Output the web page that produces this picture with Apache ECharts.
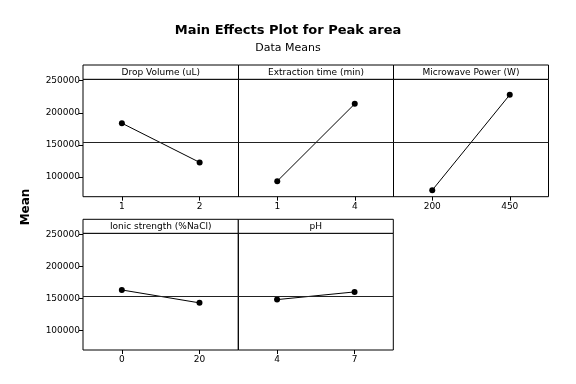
<!DOCTYPE html>
<html><head><meta charset="utf-8">
<script src="https://cdn.jsdelivr.net/npm/echarts@6/dist/echarts.min.js"></script>
<style>html,body{margin:0;padding:0;background:#fff}#c{width:576px;height:384px}</style>
</head><body><div id="c"></div>
<script>
const factors = ['Drop Volume (uL)', 'Extraction time (min)', 'Microwave Power (W)', 'Ionic strength (%NaCl)', 'pH'];
const levels = [['1', '2'], ['1', '4'], ['200', '450'], ['0', '20'], ['4', '7']];
const means = [[183900, 122900], [93700, 214000], [79700, 228100], [163500, 143300], [148400, 160400]];
const grandMean = 153600;
const yTicks = [100000, 150000, 200000, 250000];
const yMin = 69500, yMax = 252200;

const FONT = 'DejaVu Sans';
// panel layout: [left, headerTop, width, plotTop, plotBottom]
const panels = [
  [83, 65, 155.5, 79.3, 196.7],
  [238.5, 65, 155, 79.3, 196.7],
  [393.5, 65, 155, 79.3, 196.7],
  [83, 219.3, 155.3, 233.3, 350],
  [238.3, 219.3, 155, 233.3, 350]
];
const leftCol = [true, false, false, true, false];

const grids = [], xAxes = [], yAxes = [], series = [], graphics = [];
panels.forEach((p, i) => {
  const [l, ht, w, pt, pb] = p;
  grids.push({left: l, top: pt, width: w, height: pb - pt, show: true, borderColor: '#000', borderWidth: 1, backgroundColor: 'transparent'});
  xAxes.push({
    type: 'category', gridIndex: i, data: levels[i], boundaryGap: true,
    axisLine: {show: false},
    axisTick: {show: true, alignWithLabel: true, length: 4, lineStyle: {color: '#000'}},
    axisLabel: {color: '#000', fontFamily: FONT, fontSize: 9, margin: 5}
  });
  yAxes.push({
    type: 'value', gridIndex: i, min: yMin, max: yMax,
    axisLine: {show: false},
    splitLine: {show: false},
    axisTick: {show: leftCol[i], length: 4, customValues: yTicks, lineStyle: {color: '#000'}},
    axisLabel: {show: leftCol[i], customValues: yTicks, formatter: v => String(v), color: '#000', fontFamily: FONT, fontSize: 9, margin: 3}
  });
  series.push({
    type: 'line', xAxisIndex: i, yAxisIndex: i, data: means[i],
    symbol: 'circle', symbolSize: 6, showSymbol: true,
    lineStyle: {color: '#000', width: 1}, itemStyle: {color: '#000'},
    markLine: {silent: true, symbol: 'none', label: {show: false}, lineStyle: {color: '#222', width: 1, type: 'solid'}, data: [{yAxis: grandMean}]}
  });
  graphics.push({
    type: 'rect', shape: {x: l, y: ht, width: w, height: pt - ht},
    style: {fill: '#fff', stroke: '#000', lineWidth: 1}
  });
  graphics.push({
    type: 'text', x: l + w / 2, y: (ht + pt) / 2 + 0.5,
    style: {text: factors[i], fill: '#000', font: '9px "' + FONT + '"', align: 'center', verticalAlign: 'middle'}
  });
});
graphics.push({
  type: 'text', x: 26, y: 207, rotation: Math.PI / 2,
  style: {text: 'Mean', fill: '#000', font: 'bold 12px "' + FONT + '"', align: 'center', verticalAlign: 'middle'}
});

const chart = echarts.init(document.getElementById('c'), null, {renderer: 'canvas'});
chart.setOption({
  animation: false,
  title: [
    {text: 'Main Effects Plot for Peak area', left: 'center', top: 19, textStyle: {fontFamily: FONT, fontSize: 13, fontWeight: 'bold', color: '#000'}},
    {text: 'Data Means', left: 'center', top: 38, textStyle: {fontFamily: FONT, fontSize: 11, fontWeight: 'normal', color: '#000'}}
  ],
  grid: grids, xAxis: xAxes, yAxis: yAxes, series: series, graphic: graphics
});
</script></body></html>
